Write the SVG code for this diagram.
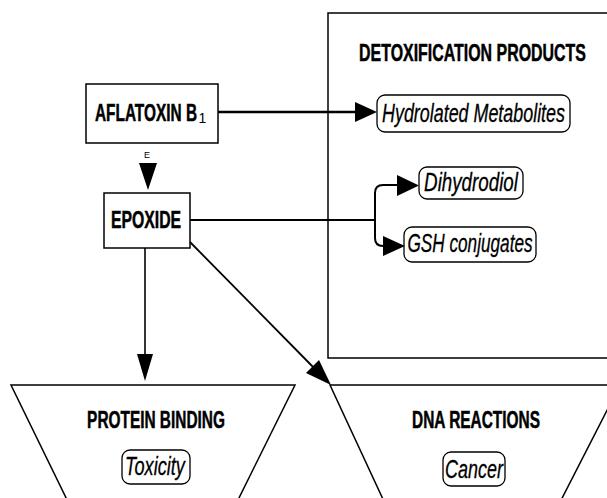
<svg xmlns="http://www.w3.org/2000/svg" width="607" height="498" viewBox="0 0 607 498">
<style>
.bg{fill:#fff}
.box{fill:#fff;stroke:#000;stroke-width:1.5}
.frame{fill:none;stroke:#000;stroke-width:1.5}
.pill{fill:#fff;stroke:#000;stroke-width:1.3}
.line{fill:none;stroke:#000;stroke-width:2}
.head{fill:#000;stroke:none}
.b{font-family:"Liberation Sans",Arial,sans-serif;font-weight:bold;font-size:24px;fill:#000;stroke:#000;stroke-width:0.5}
.i{font-family:"Liberation Sans",Arial,sans-serif;font-style:italic;font-size:26px;fill:#000;stroke:#000;stroke-width:0.3}
.sub{font-family:"Liberation Sans",Arial,sans-serif;font-size:14px;fill:#000}
.s{font-family:"Liberation Sans",Arial,sans-serif;font-size:9px;fill:#000}
</style>
<rect class="bg" x="0" y="0" width="607" height="498"/>

<g id="detox">
<path class="frame" d="M615,13 H328 V358 H615"/>
<text class="b" transform="translate(472.5,61) scale(0.65,1)" text-anchor="middle" textLength="349" lengthAdjust="spacingAndGlyphs">DETOXIFICATION PRODUCTS</text>
</g>

<g id="hydrolated">
<rect class="pill" x="377" y="95" width="193" height="37" rx="8"/>
<text class="i" transform="translate(473.5,122) scale(0.68,1)" text-anchor="middle" textLength="269" lengthAdjust="spacingAndGlyphs">Hydrolated Metabolites</text>
</g>

<g id="dihydrodiol">
<rect class="pill" x="419" y="167" width="104" height="32" rx="8"/>
<text class="i" transform="translate(471,191) scale(0.68,1)" text-anchor="middle" textLength="138" lengthAdjust="spacingAndGlyphs">Dihydrodiol</text>
</g>

<g id="gsh">
<rect class="pill" x="404" y="227" width="132" height="35" rx="8"/>
<text class="i" transform="translate(470,252) scale(0.68,1)" text-anchor="middle" textLength="184" lengthAdjust="spacingAndGlyphs">GSH conjugates</text>
</g>

<g id="aflatoxin">
<rect class="box" x="86" y="84" width="132" height="59"/>
<text class="b" transform="translate(146,121) scale(0.65,1)" text-anchor="middle" textLength="157" lengthAdjust="spacingAndGlyphs">AFLATOXIN B</text>
<text class="sub" x="198.5" y="123">1</text>
</g>

<g id="epoxide">
<rect class="box" x="104" y="193" width="86" height="55"/>
<text class="b" transform="translate(146,228) scale(0.65,1)" text-anchor="middle" textLength="108" lengthAdjust="spacingAndGlyphs">EPOXIDE</text>
</g>

<g id="protein">
<path class="frame" d="M72,510 L11,385 H295 L233,510"/>
<text class="b" transform="translate(156,428) scale(0.65,1)" text-anchor="middle" textLength="212" lengthAdjust="spacingAndGlyphs">PROTEIN BINDING</text>
<rect class="pill" x="122" y="450" width="68" height="34" rx="8"/>
<text class="i" transform="translate(155,475) scale(0.68,1)" text-anchor="middle" textLength="88" lengthAdjust="spacingAndGlyphs">Toxicity</text>
</g>

<g id="dna">
<path class="frame" d="M388,510 L330,385 H620 L556,510"/>
<text class="b" transform="translate(476,428) scale(0.65,1)" text-anchor="middle" textLength="197" lengthAdjust="spacingAndGlyphs">DNA REACTIONS</text>
<rect class="pill" x="443" y="452" width="62" height="34" rx="8"/>
<text class="i" transform="translate(474,478) scale(0.68,1)" text-anchor="middle" textLength="85" lengthAdjust="spacingAndGlyphs">Cancer</text>
</g>

<g id="connectors">
<path class="line" style="stroke-width:2.5" d="M218,112 H357"/>
<polygon class="head" points="355,102 377,112 355,122"/>
<text class="s" x="147" y="158" text-anchor="middle">E</text>
<polygon class="head" points="139,163 157,163 148,190"/>
<path class="line" d="M190,220 H375 M375,220 V193 Q375,185 383,185 H399 M375,220 V238 Q375,246 383,246 H385"/>
<polygon class="head" points="397,175 419,185.5 397,196"/>
<polygon class="head" points="383,236 405,246 383,256"/>
<path class="line" style="stroke-width:1.6" d="M145,248 V356"/>
<polygon class="head" points="137,354 153,354 145,381"/>
<path class="line" style="stroke-width:1.8" d="M190,242 L316,370"/>
<polygon class="head" points="306,373 319,360 331,385"/>
</g>
</svg>
